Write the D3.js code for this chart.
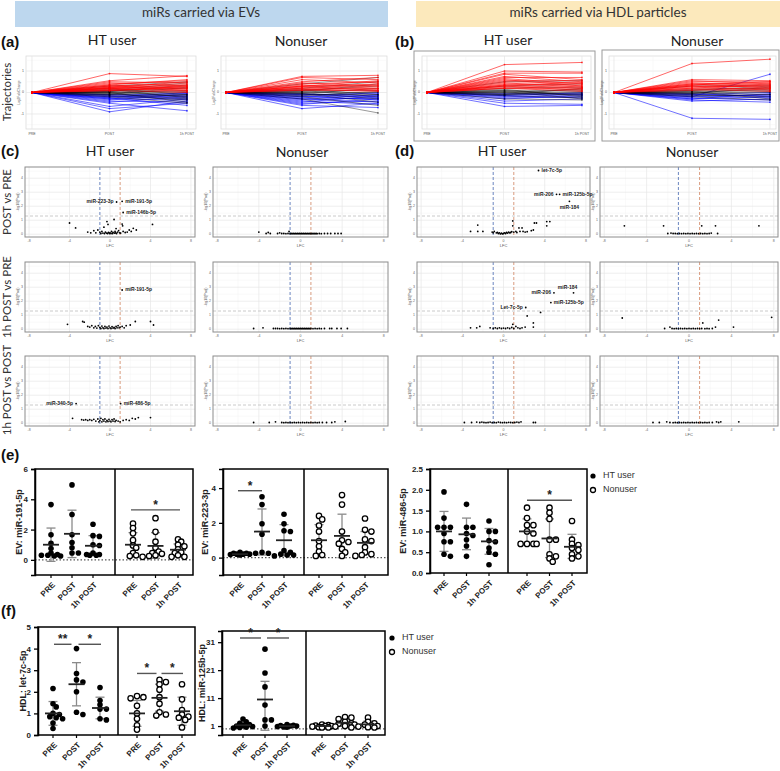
<!DOCTYPE html>
<html><head><meta charset="utf-8">
<script src="https://cdn.jsdelivr.net/npm/d3@7"></script>
<style>body{margin:0;background:#fff}svg{display:block}</style>
</head><body><svg id="c" width="780" height="771"></svg>
<script>
// ---------------- DATA ----------------
const timepoints = ["PRE","POST","1h POST"];
const yTicksTraj = [-1,0,1];
const volTicksX = [-8,-4,0,4,8];
const volTicksY = [0,1,2,3,4];

// Trajectories: [log2FC at POST, log2FC at 1h POST] (PRE = 0)
const trajEV_HT_red = [[0.88,0.75],[0.55,0.78],[0.5,0.45],[0.45,0.3],[0.4,0.55],[0.35,0.2],[0.3,0.4],[0.3,0.1],[0.25,0.35],[0.25,0.15],[0.2,0.3],[0.2,0.05],[0.18,0.25],[0.15,0.1],[0.12,0.2],[0.1,0.0],[0.08,0.3],[0.22,0.5],[0.35,0.6]];
const trajEV_HT_black = [[0.3,0.5],[0.1,0.45],[0.05,0.2],[0.0,0.1],[0.0,-0.1],[-0.05,0.05],[-0.1,0.25],[0.05,-0.2],[-0.05,-0.3],[0.15,-0.25],[0.0,-0.45],[-0.1,-0.15],[0.1,0.0],[-0.15,-0.35],[0.2,-0.1],[-0.2,-0.5],[0.05,0.35]];
const trajEV_HT_blue = [[-0.9,-0.4],[-0.75,-0.5],[-0.65,-0.3],[-0.5,-0.85],[-0.45,-0.2],[-0.4,-0.45],[-0.35,-0.1],[-0.3,-0.35],[-0.3,-0.05],[-0.25,-0.25],[-0.2,0.0],[-0.2,-0.15],[-0.15,-0.3],[-0.12,-0.05],[-0.1,-0.2],[-0.25,-0.6]];
const trajEV_Non_red = [[0.75,0.8],[0.7,0.6],[0.6,0.45],[0.5,0.7],[0.45,0.3],[0.4,0.5],[0.35,0.2],[0.3,0.35],[0.28,0.1],[0.25,0.4],[0.2,0.15],[0.2,0.3],[0.15,0.05],[0.12,0.2],[0.1,0.1],[0.3,0.55]];
const trajEV_Non_black = [[0.4,0.7],[0.2,0.5],[0.1,0.3],[0.05,0.1],[0.0,0.0],[-0.05,0.2],[-0.1,-0.1],[0.0,-0.3],[0.1,-0.2],[-0.15,0.05],[-0.05,-0.45],[0.15,-0.1],[-0.2,-0.6],[-0.3,-0.95],[0.05,0.4]];
const trajEV_Non_blue = [[-0.75,-0.5],[-0.6,-0.7],[-0.55,-0.3],[-0.5,-0.4],[-0.45,-0.15],[-0.4,-0.55],[-0.35,-0.25],[-0.3,-0.45],[-0.3,-0.1],[-0.25,-0.3],[-0.2,-0.2],[-0.2,0.0],[-0.15,-0.35],[-0.1,-0.15],[-0.1,-0.05],[-0.05,-0.25]];
const trajHDL_HT_red = [[1.3,1.4],[1.0,0.95],[0.9,0.9],[0.85,0.6],[0.75,0.5],[0.7,0.7],[0.65,0.4],[0.6,0.3],[0.55,0.55],[0.5,0.45],[0.45,0.25],[0.4,0.35],[0.35,0.2],[0.3,0.3],[0.3,0.1],[0.25,0.2],[0.2,0.15],[0.2,0.05],[0.35,0.45]];
const trajHDL_HT_black = [[0.5,0.55],[0.3,0.4],[0.2,0.25],[0.1,0.1],[0.05,0.0],[0.0,0.15],[0.0,-0.1],[-0.05,0.05],[0.1,-0.15],[-0.1,-0.05],[0.15,-0.2],[-0.15,-0.25],[-0.3,-0.35],[-0.1,0.2],[0.05,-0.3]];
const trajHDL_HT_blue = [[-0.65,-0.6],[-0.5,-0.55],[-0.4,-0.3],[-0.3,-0.15],[-0.25,-0.2],[-0.2,-0.1],[-0.15,-0.25],[-0.15,0.0],[-0.1,-0.1],[-0.05,-0.05]];
const trajHDL_Non_red = [[1.35,1.55],[0.6,0.55],[0.55,0.4],[0.5,0.5],[0.45,0.3],[0.4,0.45],[0.4,0.2],[0.35,0.35],[0.3,0.25],[0.3,0.1],[0.25,0.3],[0.2,0.15],[0.2,0.4],[0.15,0.05],[0.1,0.2],[0.35,0.5]];
const trajHDL_Non_black = [[0.3,0.35],[0.15,0.2],[0.1,0.1],[0.05,0.0],[0.0,0.15],[0.0,-0.1],[-0.05,0.05],[-0.1,-0.2],[0.05,-0.3],[-0.15,-0.1],[0.1,0.3],[-0.2,-0.35],[-0.05,0.25]];
const trajHDL_Non_blue = [[-1.2,-1.25],[-0.4,-0.3],[-0.35,-0.45],[-0.3,-0.2],[-0.25,-0.35],[-0.2,-0.1],[-0.2,0.85],[-0.15,-0.25],[-0.1,-0.15],[-0.1,0.0],[-0.05,-0.2],[-0.3,-0.05]];

// Volcano points: [LFC, -log10(Padj)]
const volEV_HT_postPre = [[-4.0,0.8],[-3.4,0.45],[-2.2,0.15],[-1.9,0.1],[-1.6,0.25],[-1.4,0.1],[-1.2,0.3],[-1.0,0.15],[-0.9,0.05],[-0.8,0.2],[-0.7,0.08],[-0.6,0.5],[-0.55,0.05],[-0.45,0.15],[-0.35,0.08],[-0.3,0.9],[-0.25,0.05],[-0.2,0.7],[-0.15,0.12],[-0.05,0.05],[0.0,0.1],[0.1,0.05],[0.15,0.2],[0.25,0.05],[0.3,0.12],[0.4,1.05],[0.45,0.08],[0.5,0.2],[0.55,0.1],[0.6,0.4],[0.65,0.05],[0.75,0.15],[0.85,0.25],[0.95,0.1],[1.05,0.08],[1.2,0.72],[1.25,0.6],[1.3,0.2],[1.5,0.12],[1.7,0.15],[1.9,0.3],[2.1,0.2],[2.3,0.42],[2.6,0.3],[4.2,0.7]];
const volEV_HT_postPre_labels = [[0.65,2.3,"miR-223-3p","l"],[1.2,2.35,"miR-191-5p","r"],[1.3,1.55,"miR-146b-5p","r"]];
const volEV_Non_postPre = [[-4.0,0.15],[-3.3,0.05],[-3.1,0.12],[-2.9,0.05],[-2.2,0.05],[-2.0,0.1],[-1.8,0.05],[-1.6,0.05],[-1.4,0.04],[-1.2,0.05],[-1.1,0.2],[-1.0,0.04],[-0.9,0.05],[-0.8,0.04],[-0.7,0.05],[-0.6,0.04],[-0.5,0.05],[-0.4,0.04],[-0.3,0.05],[-0.2,0.04],[-0.1,0.05],[0.0,0.04],[0.1,0.05],[0.2,0.04],[0.3,0.05],[0.4,0.04],[0.5,0.05],[0.6,0.04],[0.7,0.05],[0.8,0.04],[0.9,0.05],[1.0,0.04],[1.1,0.05],[1.2,0.04],[1.3,0.05],[1.4,0.04],[1.5,0.05],[1.6,0.04],[1.8,0.05],[2.0,0.04],[2.3,0.05],[2.6,0.05],[2.9,0.05],[3.3,0.05],[3.6,0.05],[3.9,0.05]];
const volEV_HT_1hPre = [[-4.2,0.35],[-2.7,0.55],[-2.55,0.5],[-2.2,0.2],[-2.0,0.15],[-1.8,0.25],[-1.6,0.1],[-1.45,0.2],[-1.3,0.08],[-1.15,0.25],[-1.0,0.12],[-0.9,0.05],[-0.8,0.22],[-0.7,0.1],[-0.6,0.05],[-0.5,0.2],[-0.4,0.08],[-0.3,0.15],[-0.2,0.05],[-0.1,0.22],[0.0,0.1],[0.1,0.05],[0.2,0.18],[0.3,0.08],[0.4,0.12],[0.5,0.05],[0.6,0.2],[0.7,0.1],[0.8,0.25],[0.9,0.1],[1.0,0.15],[1.2,0.2],[1.4,0.1],[1.6,0.25],[2.0,0.3],[2.5,0.55],[4.0,0.55],[4.3,0.3]];
const volEV_HT_1hPre_labels = [[1.2,2.8,"miR-191-5p","r"]];
const volEV_Non_1hPre = [[-4.5,0.05],[-3.6,0.1],[-2.6,0.05],[-2.4,0.05],[-2.2,0.05],[-2.0,0.04],[-1.8,0.05],[-1.6,0.04],[-1.4,0.05],[-1.2,0.04],[-1.0,0.05],[-0.9,0.04],[-0.8,0.05],[-0.7,0.04],[-0.6,0.05],[-0.5,0.04],[-0.4,0.05],[-0.3,0.04],[-0.2,0.05],[-0.1,0.04],[0.0,0.05],[0.1,0.04],[0.2,0.05],[0.3,0.04],[0.4,0.05],[0.5,0.04],[0.6,0.05],[0.7,0.04],[0.8,0.05],[0.9,0.04],[1.0,0.05],[1.2,0.04],[1.4,0.05],[1.6,0.04],[1.8,0.05],[2.0,0.04],[2.3,0.05],[2.8,0.05],[3.0,0.05],[3.5,0.05],[3.9,0.05],[4.5,0.05]];
const volEV_HT_1hPost = [[-3.7,0.35],[-2.8,0.25],[-2.6,0.22],[-2.4,0.25],[-2.2,0.2],[-2.0,0.25],[-1.8,0.2],[-1.6,0.28],[-1.4,0.15],[-1.2,0.3],[-1.1,0.1],[-1.0,0.2],[-0.9,0.35],[-0.8,0.1],[-0.7,0.25],[-0.6,0.15],[-0.5,0.3],[-0.4,0.1],[-0.3,0.2],[-0.2,0.12],[-0.1,0.28],[0.0,0.15],[0.1,0.1],[0.2,0.25],[0.3,0.15],[0.4,0.3],[0.5,0.12],[0.6,0.2],[0.8,0.15],[1.0,0.1],[1.3,0.2],[1.6,0.25],[1.9,0.2],[2.2,0.35],[2.5,0.3],[2.8,0.4],[4.0,0.4]];
const volEV_HT_1hPost_labels = [[-3.35,1.4,"miR-340-5p","l"],[1.05,1.4,"miR-486-5p","r"]];
const volEV_Non_1hPost = [[-4.5,0.05],[-3.0,0.05],[-2.4,0.1],[-1.8,0.05],[-1.6,0.04],[-1.4,0.05],[-1.2,0.04],[-1.0,0.05],[-0.8,0.04],[-0.6,0.05],[-0.4,0.04],[-0.2,0.05],[0.0,0.04],[0.2,0.05],[0.4,0.04],[0.6,0.05],[0.8,0.04],[1.0,0.05],[1.2,0.04],[1.4,0.05],[1.6,0.04],[1.8,0.05],[2.1,0.05],[2.5,0.05],[3.0,0.05],[3.3,0.1],[4.3,0.12]];
const volHDL_HT_postPre = [[-3.2,0.2],[-2.5,0.65],[-2.5,0.2],[-2.0,0.2],[-1.1,0.15],[-1.0,0.1],[-0.9,0.2],[-0.7,0.1],[-0.6,0.12],[-0.5,0.05],[-0.4,0.1],[-0.3,0.02],[-0.2,0.08],[-0.1,0.02],[0.0,0.05],[0.1,0.1],[0.2,0.05],[0.3,0.12],[0.4,0.08],[0.5,0.15],[0.6,0.1],[0.7,0.12],[0.8,0.18],[0.9,0.95],[0.9,0.6],[1.0,0.15],[1.2,0.2],[1.3,0.12],[1.5,0.45],[1.6,0.2],[1.8,0.45],[1.9,0.2],[2.1,0.15],[2.3,0.18],[2.7,0.25],[2.9,0.3],[3.0,0.8],[3.2,0.8],[4.2,0.9],[4.2,0.6],[4.5,0.9]];
const volHDL_HT_postPre_labels = [[3.4,4.55,"let-7c-5p","r"],[5.15,2.85,"miR-206","l"],[5.45,2.85,"miR-125b-5p","r"],[6.4,2.35,"miR-184","b"]];
const volHDL_Non_postPre = [[-6.1,0.6],[-2.4,0.6],[-2.0,0.05],[-1.7,0.08],[-1.5,0.05],[-1.3,0.05],[-1.1,0.04],[-0.9,0.05],[-0.7,0.04],[-0.5,0.05],[-0.3,0.04],[-0.1,0.05],[0.1,0.04],[0.3,0.05],[0.5,0.04],[0.7,0.05],[0.9,0.04],[1.1,0.05],[1.2,0.6],[1.3,0.04],[1.5,0.05],[1.7,0.04],[1.9,0.05],[2.1,0.08],[2.5,0.6],[2.7,0.05],[6.6,0.6]];
const volHDL_HT_1hPre = [[-3.2,0.1],[-2.6,0.1],[-2.3,0.2],[-1.3,0.1],[-1.0,0.05],[-0.8,0.1],[-0.6,0.05],[-0.4,0.1],[-0.2,0.05],[0.0,0.08],[0.2,0.05],[0.4,0.1],[0.6,0.05],[0.8,0.12],[0.9,0.35],[1.0,0.05],[1.2,0.2],[1.4,0.1],[1.6,0.05],[1.8,0.1],[2.1,0.15],[2.3,0.95],[2.9,0.45],[2.9,0.15],[3.6,1.2]];
const volHDL_HT_1hPre_labels = [[2.16,1.55,"Let-7c-5p","l"],[4.9,2.6,"miR-206","l"],[4.6,1.9,"miR-125b-5p","r"],[6.8,2.6,"miR-184","t"]];
const volHDL_Non_1hPre = [[-6.3,0.8],[-2.3,0.05],[-1.8,0.15],[-1.6,0.05],[-1.4,0.04],[-1.2,0.05],[-1.0,0.04],[-0.8,0.05],[-0.6,0.04],[-0.4,0.05],[-0.2,0.04],[0.0,0.05],[0.2,0.04],[0.4,0.05],[0.6,0.04],[0.8,0.05],[1.0,0.04],[1.2,0.05],[1.3,0.45],[1.5,0.04],[1.7,0.05],[1.9,0.04],[2.2,0.05],[2.5,0.15],[2.8,0.65],[4.2,0.15],[7.8,0.85]];
const volHDL_HT_1hPost = [[-3.8,0.05],[-3.1,0.05],[-2.6,0.08],[-2.3,0.05],[-2.1,0.08],[-1.9,0.05],[-1.7,0.04],[-1.5,0.05],[-1.3,0.08],[-1.1,0.04],[-0.9,0.05],[-0.7,0.04],[-0.5,0.08],[-0.3,0.05],[-0.1,0.04],[0.1,0.05],[0.3,0.04],[0.5,0.06],[0.7,0.05],[0.9,0.04],[1.1,0.05],[1.3,0.08],[1.5,0.05],[1.7,0.1],[2.9,0.05],[3.1,0.05]];
const volHDL_Non_1hPost = [[-3.4,0.05],[-2.8,0.05],[-2.1,0.1],[-1.8,0.05],[-1.5,0.04],[-1.3,0.05],[-1.1,0.04],[-0.9,0.05],[-0.7,0.04],[-0.5,0.05],[-0.3,0.04],[-0.1,0.05],[0.1,0.04],[0.3,0.05],[0.5,0.04],[0.7,0.05],[0.9,0.04],[1.1,0.05],[1.3,0.04],[1.5,0.05],[1.7,0.04],[1.9,0.05],[2.2,0.05],[2.6,0.1],[2.8,0.05],[3.0,0.1],[4.7,0.1]];

// Dot plots: values per timepoint (PRE, POST, 1h POST), means and SD ranges [low, high]
const ev191_HT = [[3.65,1.65,1.1,0.75,0.45,0.35,0.3,0.3,0.25,0.25],[4.95,3.0,1.65,1.15,0.8,0.45,0.45],[2.35,1.6,1.55,1.0,0.95,0.45,0.35,0.35,0.3,0.3]];
const ev191_HT_mean = [1.0,1.72,0.93];
const ev191_HT_sd = [[-0.1,2.1],[0.15,3.28],[0.3,1.6]];
const ev191_Non = [[2.4,2.1,1.75,1.3,0.95,0.8,0.45,0.3,0.25,0.2],[2.75,1.85,1.2,0.8,0.55,0.45,0.4,0.3,0.25],[1.35,1.2,1.0,0.9,0.7,0.5,0.45,0.3,0.2,0.2]];
const ev191_Non_mean = [1.0,0.92,0.67];
const ev191_Non_sd = [[0.2,1.8],[0.1,1.8],[0.25,1.05]];
const ev223_HT = [[0.3,0.25,0.25,0.2,0.2,0.2,0.18,0.15],[3.5,3.05,1.95,1.35,0.3,0.25,0.25],[2.5,1.95,1.55,1.5,0.4,0.3,0.2,0.15,0.15,0.1]];
const ev223_HT_mean = [0.2,1.5,1.0];
const ev223_HT_sd = [[0.15,0.25],[0.15,2.8],[0.1,1.9]];
const ev223_Non = [[2.4,2.2,1.85,1.5,0.95,0.65,0.35,0.15,0.1],[3.6,3.05,1.5,1.0,0.9,0.8,0.5,0.3,0.1],[2.25,1.6,1.5,1.05,0.95,0.6,0.3,0.2,0.15,0.1]];
const ev223_Non_mean = [1.0,1.25,0.85];
const ev223_Non_sd = [[0.1,1.9],[0.0,2.5],[0.2,1.5]];
const ev486_HT = [[1.95,1.32,1.1,1.1,1.1,0.95,0.75,0.75,0.45,0.4],[1.65,1.1,1.1,0.95,0.9,0.8,0.65,0.4],[1.25,1.0,1.0,0.78,0.75,0.6,0.5,0.45,0.2]];
const ev486_HT_mean = [1.0,0.93,0.76];
const ev486_HT_sd = [[0.52,1.48],[0.56,1.32],[0.45,1.07]];
const ev486_Non = [[1.57,1.32,1.15,1.15,1.0,0.95,0.7,0.7,0.7,0.7],[1.57,1.45,1.3,0.8,0.8,0.45,0.4,0.35,0.27],[1.25,0.8,0.7,0.67,0.6,0.55,0.45,0.4,0.35]];
const ev486_Non_mean = [1.0,0.83,0.63];
const ev486_Non_sd = [[0.7,1.3],[0.37,1.3],[0.35,0.93]];
const hdlLet7c_HT = [[2.15,1.45,1.3,1.0,0.95,0.85,0.8,0.75,0.55,0.3],[4.0,2.85,2.55,2.45,2.0,1.05,0.95],[2.2,1.6,1.4,1.2,1.2,0.75,0.7]];
const hdlLet7c_HT_mean = [1.0,2.35,1.25];
const hdlLet7c_HT_sd = [[0.45,1.55],[1.35,3.35],[0.75,1.75]];
const hdlLet7c_Non = [[1.8,1.75,1.7,1.35,1.0,0.75,0.45,0.25],[2.55,2.45,2.35,2.1,1.75,1.45,1.05,0.95,0.9],[2.35,1.65,1.15,0.95,0.85,0.8,0.7,0.35]];
const hdlLet7c_Non_mean = [1.0,1.72,1.1];
const hdlLet7c_Non_sd = [[0.4,1.6],[1.1,2.35],[0.45,1.75]];
const hdl125b_HT = [[3.5,2.5,2.0,1.5,1.2,1.0,0.8,0.6,0.5,0.3],[28.5,20.0,15.0,8.5,3.2,3.2,1.0],[1.5,1.3,1.2,1.0,1.0,0.8,0.7,0.6]];
const hdl125b_HT_mean = [1.3,10.5,1.0];
const hdl125b_HT_sd = [[0.3,2.3],[-0.5,17.0],[0.7,1.3]];
const hdl125b_Non = [[1.5,1.3,1.2,1.0,1.0,0.8,0.6,0.5,0.5],[4.2,4.0,3.5,2.5,2.0,1.8,1.5,1.0,0.8,0.5],[4.0,2.5,2.0,1.5,1.2,1.0,0.8,0.6,0.5]];
const hdl125b_Non_mean = [1.0,2.2,1.6];
const hdl125b_Non_sd = [[0.6,1.4],[0.9,3.5],[0.5,2.8]];

// ---------------- DRAWING ----------------
const svg = d3.select("#c");
const FT = "Lato, 'Open Sans', sans-serif";
const FA = "'Liberation Sans', Arial, sans-serif";

function txt(x,y,s,o={}){
  const t = svg.append("text").attr("x",x).attr("y",y).text(s)
    .attr("font-family",o.ff||FT).attr("font-size",o.fs||13)
    .attr("fill",o.fill||"#222").attr("text-anchor",o.anchor||"start")
    .attr("font-weight",o.fw||"normal").attr("dominant-baseline",o.db||"middle");
  if(o.rot!==undefined) t.attr("transform",`rotate(${o.rot},${x},${y})`);
  return t;
}

// header bars
svg.append("rect").attr("x",15).attr("y",1).attr("width",373).attr("height",26).attr("fill","#BDD7EE");
svg.append("rect").attr("x",416).attr("y",1).attr("width",364).attr("height",26).attr("fill","#FCE9BC");
txt(201,14,"miRs carried via EVs",{fs:13.5,anchor:"middle",fill:"#333"});
txt(598,14,"miRs carried via HDL particles",{fs:13.5,anchor:"middle",fill:"#333"});

// panel letters and titles
[["(a)",1,43],["(b)",395,43],["(c)",1,152],["(d)",395,152],["(e)",1,456],["(f)",1,612]].forEach(d=>
  txt(d[1],d[2],d[0],{ff:FA,fs:15,fw:"bold",fill:"#111"}));
[[112,41,"HT user"],[301,42,"Nonuser"],[508,41,"HT user"],[697,42,"Nonuser"],
 [110,152,"HT user"],[302,153,"Nonuser"],[502,152,"HT user"],[692,153,"Nonuser"]].forEach(d=>
  txt(d[0],d[1],d[2],{fs:14,anchor:"middle",fill:"#222"}));

// row titles
[[92,"Trajectories"],[202,"POST vs PRE"],[297,"1h POST vs PRE"],[390,"1h POST vs POST"]].forEach(d=>
  txt(8,d[0],d[1],{fs:11.5,anchor:"middle",rot:-90,fill:"#333"}));

// ---- trajectories ----
function trajPanel(o){
  const g = svg.append("g");
  const x = d3.scalePoint().domain(timepoints).range([o.lx0,o.lx1]);
  const y = d3.scaleLinear().domain([-1.7,1.7]).range([o.y1,o.y0]);
  if(o.outer) g.append("rect").attr("x",o.outer[0]).attr("y",o.outer[1]).attr("width",o.outer[2]-o.outer[0]).attr("height",o.outer[3]-o.outer[1]).attr("fill","#fff").attr("stroke","#9a9a9a").attr("stroke-width",1);
  g.append("rect").attr("x",o.x0).attr("y",o.y0).attr("width",o.x1-o.x0).attr("height",o.y1-o.y0).attr("fill","#fff").attr("stroke","#dcdcdc").attr("stroke-width",0.8);
  [-1.5,-0.5,0.5,1.5].forEach(v=>g.append("line").attr("x1",o.x0).attr("x2",o.x1).attr("y1",y(v)).attr("y2",y(v)).attr("stroke","#f2f2f2").attr("stroke-width",0.5));
  yTicksTraj.forEach(v=>g.append("line").attr("x1",o.x0).attr("x2",o.x1).attr("y1",y(v)).attr("y2",y(v)).attr("stroke","#e4e4e4").attr("stroke-width",0.7));
  const xs = timepoints.map(t=>x(t));
  [ (xs[0]+xs[1])/2, (xs[1]+xs[2])/2 ].forEach(v=>g.append("line").attr("x1",v).attr("x2",v).attr("y1",o.y0).attr("y2",o.y1).attr("stroke","#f2f2f2").attr("stroke-width",0.5));
  xs.forEach(v=>g.append("line").attr("x1",v).attr("x2",v).attr("y1",o.y0).attr("y2",o.y1).attr("stroke","#e4e4e4").attr("stroke-width",0.7));
  const line = d3.line().x(d=>x(d[0])).y(d=>y(d[1]));
  [[o.blue,"#0000ff",0.7],[o.black,"#000",0.5],[o.red,"#ff0000",0.75]].forEach(([set,col,op])=>{
    set.forEach(p=>{
      const pts = [["PRE",0],["POST",p[0]],["1h POST",p[1]]];
      g.append("path").attr("d",line(pts)).attr("fill","none").attr("stroke",col).attr("stroke-opacity",op).attr("stroke-width",0.8);
      pts.forEach(q=>g.append("circle").attr("cx",x(q[0])).attr("cy",y(q[1])).attr("r",0.9).attr("fill",col).attr("fill-opacity",op));
    });
  });
  yTicksTraj.forEach(v=>g.append("text").attr("x",o.x0-2).attr("y",y(v)).text(v).attr("font-size",3.5).attr("font-family",FA).attr("fill","#555").attr("text-anchor","end").attr("dominant-baseline","middle"));
  timepoints.forEach(t=>g.append("text").attr("x",x(t)).attr("y",o.y1+6).text(t).attr("font-size",3.5).attr("font-family",FA).attr("fill","#555").attr("text-anchor","middle"));
  g.append("text").attr("transform",`translate(${o.x0-6},${(o.y0+o.y1)/2}) rotate(-90)`).text("Log2FoldChange").attr("font-size",3.2).attr("font-family",FA).attr("fill","#555").attr("text-anchor","middle");
}
trajPanel({x0:26,x1:196,y0:56,y1:129,lx0:32,lx1:187,red:trajEV_HT_red,black:trajEV_HT_black,blue:trajEV_HT_blue});
trajPanel({x0:221,x1:387,y0:56,y1:129,lx0:226,lx1:378,red:trajEV_Non_red,black:trajEV_Non_black,blue:trajEV_Non_blue});
trajPanel({x0:422,x1:591,y0:56,y1:129,lx0:427,lx1:582,red:trajHDL_HT_red,black:trajHDL_HT_black,blue:trajHDL_HT_blue,outer:[414,51,595,141]});
trajPanel({x0:609,x1:776,y0:56,y1:129,lx0:614,lx1:770,red:trajHDL_Non_red,black:trajHDL_Non_black,blue:trajHDL_Non_blue,outer:[602,50,779,141]});

// ---- volcano plots ----
function volcano(o){
  const g = svg.append("g");
  const x = d3.scaleLinear().domain([-8.4,8.4]).range([o.x0,o.x1]);
  const y = d3.scaleLinear().domain([-0.2,4.8]).range([o.y1,o.y0]);
  g.append("rect").attr("x",o.x0).attr("y",o.y0).attr("width",o.x1-o.x0).attr("height",o.y1-o.y0).attr("fill","#fff");
  [-6,-2,2,6].forEach(v=>g.append("line").attr("x1",x(v)).attr("x2",x(v)).attr("y1",o.y0).attr("y2",o.y1).attr("stroke","#f3f3f3").attr("stroke-width",0.5));
  [0.5,1.5,2.5,3.5,4.5].forEach(v=>g.append("line").attr("x1",o.x0).attr("x2",o.x1).attr("y1",y(v)).attr("y2",y(v)).attr("stroke","#f3f3f3").attr("stroke-width",0.5));
  volTicksX.forEach(v=>g.append("line").attr("x1",x(v)).attr("x2",x(v)).attr("y1",o.y0).attr("y2",o.y1).attr("stroke","#e6e6e6").attr("stroke-width",0.7));
  volTicksY.forEach(v=>g.append("line").attr("x1",o.x0).attr("x2",o.x1).attr("y1",y(v)).attr("y2",y(v)).attr("stroke","#e6e6e6").attr("stroke-width",0.7));
  g.append("line").attr("x1",x(-1)).attr("x2",x(-1)).attr("y1",o.y0).attr("y2",o.y1).attr("stroke","#5a78b8").attr("stroke-width",0.9).attr("stroke-dasharray","3,2");
  g.append("line").attr("x1",x(1)).attr("x2",x(1)).attr("y1",o.y0).attr("y2",o.y1).attr("stroke","#d4906f").attr("stroke-width",0.9).attr("stroke-dasharray","3,2");
  g.append("line").attr("x1",o.x0).attr("x2",o.x1).attr("y1",y(1.3)).attr("y2",y(1.3)).attr("stroke","#c4c4c4").attr("stroke-width",0.9).attr("stroke-dasharray","3,2");
  g.append("rect").attr("x",o.x0).attr("y",o.y0).attr("width",o.x1-o.x0).attr("height",o.y1-o.y0).attr("fill","none").attr("stroke","#8c8c8c").attr("stroke-width",1);
  o.pts.forEach(p=>g.append("circle").attr("cx",x(p[0])).attr("cy",y(p[1])).attr("r",0.9).attr("fill","#000"));
  (o.labels||[]).forEach(p=>{
    g.append("circle").attr("cx",x(p[0])).attr("cy",y(p[1])).attr("r",0.9).attr("fill","#000");
    let tx=x(p[0]), ty=y(p[1]), an="start";
    if(p[3]==="r"){tx+=3;} else if(p[3]==="l"){tx-=3;an="end";} else if(p[3]==="t"){ty-=5;tx-=6;an="middle";} else {ty+=6;an="middle";}
    g.append("text").attr("x",tx).attr("y",ty).text(p[2]).attr("font-size",5).attr("font-weight","bold").attr("font-family",FA).attr("fill","#222").attr("text-anchor",an).attr("dominant-baseline","middle");
  });
  volTicksX.forEach(v=>g.append("text").attr("x",x(v)).attr("y",o.y1+4.5).text(v).attr("font-size",3.5).attr("font-family",FA).attr("fill","#666").attr("text-anchor","middle"));
  volTicksY.forEach(v=>g.append("text").attr("x",o.x0-2).attr("y",y(v)).text(v).attr("font-size",3.5).attr("font-family",FA).attr("fill","#666").attr("text-anchor","end").attr("dominant-baseline","middle"));
  g.append("text").attr("x",(o.x0+o.x1)/2).attr("y",o.y1+10).text("LFC").attr("font-size",4).attr("font-family",FA).attr("fill","#555").attr("text-anchor","middle");
  g.append("text").attr("transform",`translate(${o.x0-6},${(o.y0+o.y1)/2}) rotate(-90)`).text("-log10(Padj)").attr("font-size",3.5).attr("font-family",FA).attr("fill","#555").attr("text-anchor","middle");
}
const volCols = [[25,195],[213,388],[417,590],[600,778]];
const volRows = [[167,237],[262,332],[356,426]];
const volSets = [
  [volEV_HT_postPre,volEV_HT_postPre_labels],[volEV_Non_postPre,null],[volHDL_HT_postPre,volHDL_HT_postPre_labels],[volHDL_Non_postPre,null],
  [volEV_HT_1hPre,volEV_HT_1hPre_labels],[volEV_Non_1hPre,null],[volHDL_HT_1hPre,volHDL_HT_1hPre_labels],[volHDL_Non_1hPre,null],
  [volEV_HT_1hPost,volEV_HT_1hPost_labels],[volEV_Non_1hPost,null],[volHDL_HT_1hPost,null],[volHDL_Non_1hPost,null]];
volSets.forEach((s,i)=>{
  const c=volCols[i%4], r=volRows[Math.floor(i/4)];
  volcano({x0:c[0],x1:c[1],y0:r[0],y1:r[1],pts:s[0],labels:s[1]});
});

// ---- dot plots ----
function swarm(vals, y, cx, d, minDist){
  const placed=[]; const out=[];
  vals.slice().sort((a,b)=>b-a).forEach(v=>{
    const py=y(v);
    const offs=[0,d,-d,2*d,-2*d,3*d,-3*d];
    let best=cx, bestScore=-1;
    for(const of of offs){
      const c=cx+of;
      const md = placed.length? Math.min(...placed.map(p=>Math.hypot(p[0]-c,p[1]-py))) : 99;
      if(md>=minDist){best=c;bestScore=99;break;}
      if(md>bestScore){bestScore=md;best=c;}
    }
    placed.push([best,py]); out.push([best,py]);
  });
  return out;
}
function dotPlot(o){
  const g = svg.append("g");
  const y = d3.scaleLinear().domain(o.domain).range([o.y1,o.y0]);
  const xH = d3.scalePoint().domain(timepoints).range(o.htRange);
  const xN = d3.scalePoint().domain(timepoints).range(o.nonRange);
  if(o.domain[0]<0) g.append("line").attr("x1",o.x0).attr("x2",o.x1).attr("y1",y(0)).attr("y2",y(0)).attr("stroke","#555").attr("stroke-width",1.1).attr("stroke-dasharray","1.5,2");
  const groups=[[xH,o.ht,o.htMean,o.htSd,true],[xN,o.non,o.nonMean,o.nonSd,false]];
  groups.forEach(([xs,vals,means,sds,filled])=>{
    timepoints.forEach((t,i)=>{
      const cx=xs(t);
      const sd=sds[i];
      g.append("line").attr("x1",cx).attr("x2",cx).attr("y1",y(sd[0])).attr("y2",y(sd[1])).attr("stroke","#8a8a8a").attr("stroke-width",1.3);
      [sd[0],sd[1]].forEach(v=>g.append("line").attr("x1",cx-4.5).attr("x2",cx+4.5).attr("y1",y(v)).attr("y2",y(v)).attr("stroke","#8a8a8a").attr("stroke-width",1.3));
      swarm(vals[i],y,cx,3.2,3.9).forEach(p=>{
        g.append("circle").attr("cx",p[0]).attr("cy",p[1]).attr("r",filled?2.8:2.7)
          .attr("fill",filled?"#000":"#fff").attr("stroke","#000").attr("stroke-width",filled?0:1.3);
      });
      g.append("line").attr("x1",cx-8).attr("x2",cx+8).attr("y1",y(means[i])).attr("y2",y(means[i])).attr("stroke","#222").attr("stroke-width",1.8);
    });
  });
  // frame
  g.append("rect").attr("x",o.x0).attr("y",o.y0).attr("width",o.x1-o.x0).attr("height",o.y1-o.y0).attr("fill","none").attr("stroke","#000").attr("stroke-width",1.5);
  g.append("line").attr("x1",o.div).attr("x2",o.div).attr("y1",o.y0).attr("y2",o.y1).attr("stroke","#000").attr("stroke-width",1.5);
  // y axis
  const ax = g.append("g").attr("transform",`translate(${o.x0},0)`).call(d3.axisLeft(y).tickValues(o.ticks).tickSize(4).tickFormat(o.fmt||(d=>d)));
  ax.select(".domain").attr("stroke","#000").attr("stroke-width",1.5);
  ax.selectAll(".tick line").attr("stroke","#000").attr("stroke-width",1.3);
  ax.selectAll("text").attr("font-family",FA).attr("font-size",8).attr("font-weight","bold").attr("fill","#222");
  // x labels
  [xH,xN].forEach(xs=>timepoints.forEach(t=>{
    const cx=xs(t);
    g.append("line").attr("x1",cx).attr("x2",cx).attr("y1",o.y1).attr("y2",o.y1+3).attr("stroke","#000").attr("stroke-width",1.2);
    g.append("text").attr("x",cx+3).attr("y",o.y1+9).text(t).attr("font-family",FA).attr("font-size",8).attr("font-weight","bold").attr("fill","#222")
      .attr("text-anchor","end").attr("dominant-baseline","middle").attr("transform",`rotate(-45,${cx+3},${o.y1+9})`);
  }));
  // significance
  (o.sig||[]).forEach(s=>{
    const xs = s[0]==="HT"?xH:xN;
    const xa=xs(s[1])+s[4][0], xb=xs(s[2])+s[4][1], yy=y(s[3]);
    g.append("line").attr("x1",xa).attr("x2",xb).attr("y1",yy).attr("y2",yy).attr("stroke","#555").attr("stroke-width",1.4);
    g.append("text").attr("x",(xa+xb)/2).attr("y",yy-1).text(s[5]).attr("font-family",FA).attr("font-size",12).attr("font-weight","bold").attr("fill","#222").attr("text-anchor","middle");
  });
  g.append("text").attr("transform",`translate(${o.labX},${(o.y0+o.y1)/2}) rotate(-90)`).text(o.ylabel).attr("font-family",FA).attr("font-size",9).attr("font-weight","bold").attr("fill","#222").attr("text-anchor","middle").attr("dominant-baseline","middle");
}
dotPlot({x0:35,x1:193,div:115,y0:469,y1:575,domain:[-1,6],ticks:[0,2,4,6],htRange:[51,93],nonRange:[133,178],
  ht:ev191_HT,htMean:ev191_HT_mean,htSd:ev191_HT_sd,non:ev191_Non,nonMean:ev191_Non_mean,nonSd:ev191_Non_sd,
  sig:[["Non","PRE","1h POST",3.3,[-2,2],"*"]],ylabel:"EV: miR-191-5p",labX:20});
dotPlot({x0:223,x1:388,div:304,y0:469,y1:575,domain:[-1,5.1],ticks:[0,2,4],htRange:[240,284],nonRange:[319,365],
  ht:ev223_HT,htMean:ev223_HT_mean,htSd:ev223_HT_sd,non:ev223_Non,nonMean:ev223_Non_mean,nonSd:ev223_Non_sd,
  sig:[["HT","PRE","POST",3.85,[-2,0],"*"]],ylabel:"EV: miR-223-3p",labX:206});
dotPlot({x0:430,x1:587,div:508,y0:469,y1:573,domain:[0,2.5],ticks:[0,0.5,1,1.5,2,2.5],fmt:d3.format(".1f"),htRange:[444,489],nonRange:[527,572],
  ht:ev486_HT,htMean:ev486_HT_mean,htSd:ev486_HT_sd,non:ev486_Non,nonMean:ev486_Non_mean,nonSd:ev486_Non_sd,
  sig:[["Non","PRE","1h POST",1.75,[0,0],"*"]],ylabel:"EV: miR-486-5p",labX:404});
dotPlot({x0:38,x1:195,div:118,y0:627,y1:735,domain:[0,5],ticks:[0,1,2,3,4,5],htRange:[53,100],nonRange:[137,182],
  ht:hdlLet7c_HT,htMean:hdlLet7c_HT_mean,htSd:hdlLet7c_HT_sd,non:hdlLet7c_Non,nonMean:hdlLet7c_Non_mean,nonSd:hdlLet7c_Non_sd,
  sig:[["HT","PRE","POST",4.2,[1,-5],"**"],["HT","POST","1h POST",4.2,[2,1],"*"],["Non","PRE","POST",2.85,[0,-3],"*"],["Non","POST","1h POST",2.85,[2,1],"*"]],
  ylabel:"HDL: let-7c-5p",labX:24});
dotPlot({x0:222,x1:385,div:306,y0:631,y1:735,domain:[-2.2,35],ticks:[1,11,21,31],htRange:[243,287],nonRange:[322,368],
  ht:hdl125b_HT,htMean:hdl125b_HT_mean,htSd:hdl125b_HT_sd,non:hdl125b_Non,nonMean:hdl125b_Non_mean,nonSd:hdl125b_Non_sd,
  sig:[["HT","PRE","POST",32.5,[-3,-4],"*"],["HT","POST","1h POST",32.5,[2,2],"*"]],ylabel:"HDL: miR-125b-5p",labX:203});

// legends
function legend(x,y){
  svg.append("circle").attr("cx",x).attr("cy",y).attr("r",2.6).attr("fill","#000");
  svg.append("circle").attr("cx",x).attr("cy",y+14).attr("r",2.5).attr("fill","#fff").attr("stroke","#000").attr("stroke-width",1.3);
  txt(x+10,y,"HT user",{ff:FA,fs:9,fill:"#333"});
  txt(x+10,y+14,"Nonuser",{ff:FA,fs:9,fill:"#333"});
}
legend(593,476);
legend(392,638);
</script></body></html>
